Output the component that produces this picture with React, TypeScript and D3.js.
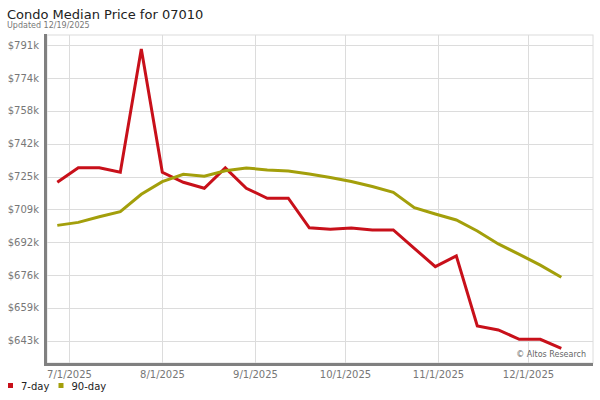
import React from "react";
import * as d3 from "d3";

const dates = [
  "2025-06-27","2025-07-04","2025-07-11","2025-07-18","2025-07-25","2025-08-01","2025-08-08",
  "2025-08-15","2025-08-22","2025-08-29","2025-09-05","2025-09-12","2025-09-19","2025-09-26",
  "2025-10-03","2025-10-10","2025-10-17","2025-10-24","2025-10-31","2025-11-07","2025-11-14",
  "2025-11-21","2025-11-28","2025-12-05","2025-12-12",
];
const sevenDay = [
  722.2, 729.5, 729.5, 727.2, 789.0, 727.2, 722.2, 719.2, 729.4, 719.2, 714.2, 714.2, 699.4,
  698.6, 699.3, 698.3, 698.3, 689.1, 679.9, 685.3, 650.2, 648.2, 643.5, 643.5, 639.0,
];
const ninetyDay = [
  700.6, 702.1, 704.9, 707.5, 716.2, 722.5, 726.2, 725.2, 728.0, 729.4, 728.4, 727.9, 726.3,
  724.6, 722.6, 720.1, 717.2, 709.5, 706.3, 703.3, 697.8, 691.3, 686.1, 680.7, 674.6,
];
const yTicks = [642.8, 659.25, 675.7, 692.15, 708.6, 725.05, 741.5, 757.95, 774.4, 790.85];
const yTickLabels = ["$643k","$659k","$676k","$692k","$709k","$725k","$742k","$758k","$774k","$791k"];
const xTicks = ["2025-07-01","2025-08-01","2025-09-01","2025-10-01","2025-11-01","2025-12-01"];
const xTickLabels = ["7/1/2025","8/1/2025","9/1/2025","10/1/2025","11/1/2025","12/1/2025"];
const seriesNames = ["7-day", "90-day"];
const seriesColors = ["#c8101a", "#a39f0b"];

const parse = d3.utcParse("%Y-%m-%d");

export default function App() {
  const W = 600, H = 400;
  const left = 47, right = 593, top = 35, bottom = 363;
  const x = d3.scaleUtc()
    .domain([parse("2025-07-01")!, parse("2025-12-01")!])
    .range([69.3, 528.3]);
  const y = d3.scaleLinear().domain([642.8, 790.85]).range([340.7, 45.3]);
  const font = "'DejaVu Sans', Verdana, sans-serif";

  const pts = dates.map((d) => parse(d)!);
  const line = d3.line<number>()
    .x((_, i) => x(pts[i]))
    .y((v) => y(v));

  const series = [sevenDay, ninetyDay];

  return (
    <svg width={W} height={H} style={{ position: "absolute", left: 0, top: 0, fontFamily: font }}>
      <rect x={0} y={0} width={W} height={H} fill="#fff" />
      <text x={7} y={19} fontSize={13} fill="#222">Condo Median Price for 07010</text>
      <text x={7} y={28} fontSize={8} fill="#777">Updated 12/19/2025</text>

      {/* plot frame */}
      <rect x={left} y={top} width={right - left} height={bottom - top} fill="none" stroke="#dcdcdc" strokeWidth={1} />
      {yTicks.map((t, i) => (
        <g key={"y" + i}>
          <line x1={left} x2={right} y1={Math.round(y(t)) + 0.5} y2={Math.round(y(t)) + 0.5} stroke="#dcdcdc" strokeWidth={1} />
          <text x={39} y={y(t) + 3.5} fontSize={10} fill="#777" textAnchor="end">{yTickLabels[i]}</text>
        </g>
      ))}
      {xTicks.map((t, i) => {
        const xv = Math.round(x(parse(t)!)) + 0.5;
        return (
          <g key={"x" + i}>
            <line x1={xv} x2={xv} y1={top} y2={bottom} stroke="#dcdcdc" strokeWidth={1} />
            <text x={xv} y={378} fontSize={10} fill="#777" textAnchor="middle">{xTickLabels[i]}</text>
          </g>
        );
      })}

      {series.map((s, i) => (
        <path key={"s" + i} d={line(s) || ""} fill="none" stroke={seriesColors[i]} strokeWidth={3} strokeLinejoin="miter" />
      ))}

      <text x={586} y={357} fontSize={8} fill="#666" textAnchor="end">© Altos Research</text>

      {/* axes */}
      <rect x={44} y={34} width={3} height={332} fill="#808080" />
      <rect x={44} y={363} width={549} height={3} fill="#808080" />

      {/* legend */}
      {seriesNames.map((n, i) => {
        const lx = i === 0 ? 8 : 58.5;
        return (
          <g key={"l" + i}>
            <rect x={lx} y={383} width={5} height={5} fill={seriesColors[i]} />
            <text x={lx + 13} y={390} fontSize={10} fill="#222">{n}</text>
          </g>
        );
      })}
    </svg>
  );
}
